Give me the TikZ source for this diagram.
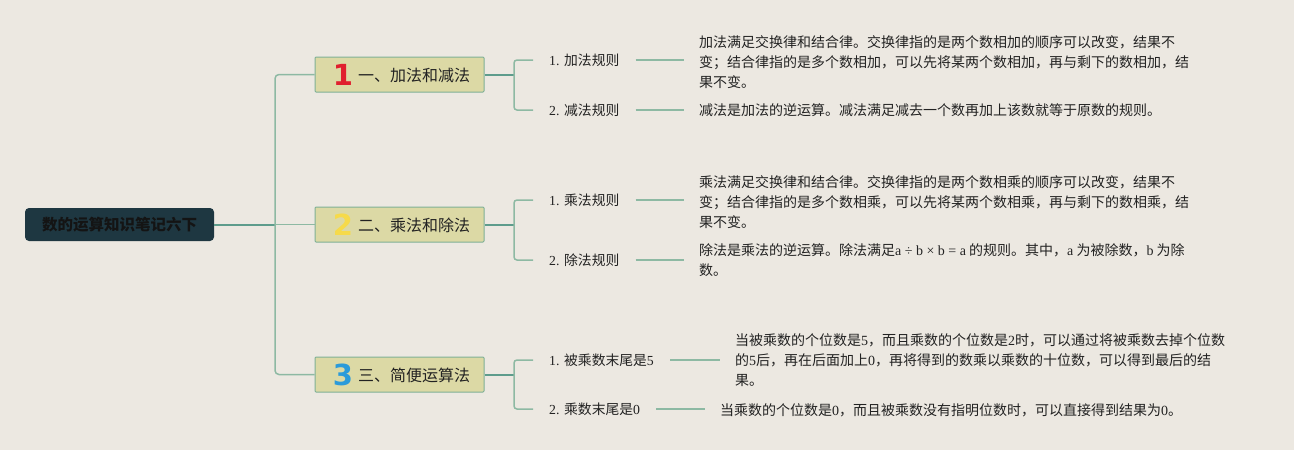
\documentclass[tikz,border=0pt]{standalone}
\usepackage{fontspec}
\setmainfont{Liberation Serif}
\newfontfamily\cjk{Noto Sans CJK SC}
\newfontfamily\numf{DejaVu Sans}
\newcommand\latn[1]{{\rmfamily #1}}
\definecolor{bgC}{HTML}{ECE8E1}
\definecolor{lineC}{HTML}{8DB9A3}
\definecolor{rootLineC}{HTML}{5E9C8C}
\definecolor{topicB}{HTML}{7FB096}
\definecolor{topicC}{HTML}{DCD9A5}
\definecolor{rootC}{HTML}{1E3741}
\definecolor{numR}{HTML}{E0202E}
\definecolor{numY}{HTML}{F6DA4A}
\definecolor{numB}{HTML}{2B9BDA}
\definecolor{txtC}{HTML}{222222}
\begin{document}
\begin{tikzpicture}[x=1pt,y=-1pt,
  conn/.style={draw=lineC, line width=1.5pt},
  rootline/.style={draw=rootLineC, line width=2pt},
  rootbox/.style={fill=rootC, rounded corners=4pt, minimum width=189pt, minimum height=33pt, inner sep=0pt, font=\cjk\bfseries\fontsize{15.5}{18}\selectfont, text=black!92},
  topicbox/.style={fill=topicC, draw=topicB, line width=1pt, rounded corners=1pt, minimum width=169pt, minimum height=35pt, inner sep=0pt},
  numtxt/.style={font=\numf\bfseries\fontsize{29}{29}\selectfont, inner sep=0pt},
  toplabel/.style={anchor=west, inner sep=0pt, font=\cjk\fontsize{16}{18}\selectfont, text=txtC},
  childtxt/.style={anchor=west, inner sep=0pt, font=\cjk\fontsize{13.8}{16}\selectfont, text=txtC},
  desc/.style={anchor=west, inner sep=0pt, align=left, font=\cjk\fontsize{14}{20}\selectfont, text=txtC},
  link/.style={conn, shorten <=16pt, shorten >=15pt}
]
\fill[bgC] (0,0) rectangle (1294,450);
\useasboundingbox (0,0) rectangle (1294,450);

% root
\node[rootbox] (root) at (119.5,224.5) {数的运算知识笔记六下};

% topics
\node[topicbox] (t1) at (399.5,74.5) {};
\node[numtxt, text=numR] (n1) at (343,74.5) {1};
\node[toplabel] (l1) at (358,75) {一、加法和减法};

\node[topicbox] (t2) at (399.5,224.5) {};
\node[numtxt, text=numY] (n2) at (343,224.5) {2};
\node[toplabel] (l2) at (358,225) {二、乘法和除法};

\node[topicbox] (t3) at (399.5,374.5) {};
\node[numtxt, text=numB] (n3) at (343,374.5) {3};
\node[toplabel] (l3) at (358,375) {三、简便运算法};

% trunk
\coordinate (tr) at (275,224.5);
\draw[rootline] (root.east) -- (tr);
\draw[conn, rounded corners=4pt] (t1.west) -| (tr) |- (t3.west);
\draw[conn] (tr) -- (t2.west);

% children
\node[childtxt] (c11) at (549,60) {\latn{1. }加法规则};
\node[childtxt] (c12) at (549,110) {\latn{2. }减法规则};
\node[childtxt] (c21) at (549,200) {\latn{1. }乘法规则};
\node[childtxt] (c22) at (549,260) {\latn{2. }除法规则};
\node[childtxt] (c31) at (549,360) {\latn{1. }被乘数末尾是\latn{5}};
\node[childtxt] (c32) at (549,409) {\latn{2. }乘数末尾是\latn{0}};

% branches
\coordinate (b1) at (514,74.5);
\coordinate (b2) at (514,224.5);
\coordinate (b3) at (514,374.5);
\draw[rootline] (t1.east) -- (b1);
\draw[rootline] (t2.east) -- (b2);
\draw[rootline] (t3.east) -- (b3);
\draw[conn, rounded corners=3pt] ([xshift=-16pt]c11.west) -| (b1) |- ([xshift=-16pt]c12.west);
\draw[conn, rounded corners=3pt] ([xshift=-16pt]c21.west) -| (b2) |- ([xshift=-16pt]c22.west);
\draw[conn, rounded corners=3pt] ([xshift=-16pt]c31.west) -| (b3) |- ([xshift=-16pt]c32.west);

% descriptions
\node[desc] (d11) at (699,62.5) {加法满足交换律和结合律。交换律指的是两个数相加的顺序可以改变，结果不\\变；结合律指的是多个数相加，可以先将某两个数相加，再与剩下的数相加，结\\果不变。};
\node[desc] (d12) at (699,110) {减法是加法的逆运算。减法满足减去一个数再加上该数就等于原数的规则。};
\node[desc] (d21) at (699,202.5) {乘法满足交换律和结合律。交换律指的是两个数相乘的顺序可以改变，结果不\\变；结合律指的是多个数相乘，可以先将某两个数相乘，再与剩下的数相乘，结\\果不变。};
\node[desc] (d22) at (699,260) {除法是乘法的逆运算。除法满足\latn{a ÷ b × b = a} 的规则。其中，\latn{a} 为被除数，\latn{b} 为除\\数。};
\node[desc] (d31) at (735,360.5) {当被乘数的个位数是\latn{5}，而且乘数的个位数是\latn{2}时，可以通过将被乘数去掉个位数\\的\latn{5}后，再在后面加上\latn{0}，再将得到的数乘以乘数的十位数，可以得到最后的结\\果。};
\node[desc] (d32) at (720,410) {当乘数的个位数是\latn{0}，而且被乘数没有指明位数时，可以直接得到结果为\latn{0}。};

\draw[link] (c11.east) -- (c11.east -| d11.west);
\draw[link] (c12.east) -- (c12.east -| d12.west);
\draw[link] (c21.east) -- (c21.east -| d21.west);
\draw[link] (c22.east) -- (c22.east -| d22.west);
\draw[link] (c31.east) -- (c31.east -| d31.west);
\draw[link] (c32.east) -- (c32.east -| d32.west);
\end{tikzpicture}
\end{document}
